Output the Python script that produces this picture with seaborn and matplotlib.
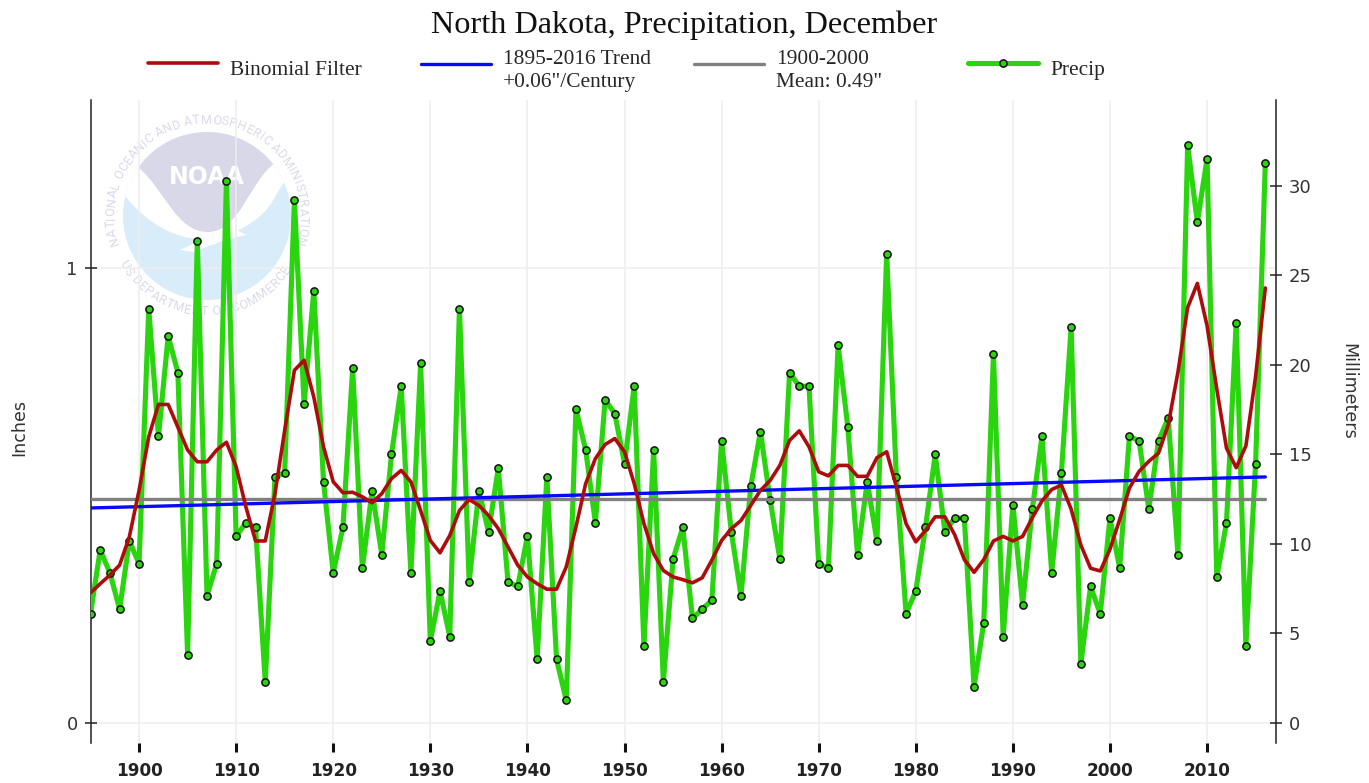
import numpy as np
import pandas as pd
import matplotlib
matplotlib.use("Agg")
import matplotlib.pyplot as plt
import seaborn as sns
from matplotlib.font_manager import FontProperties
from matplotlib.legend_handler import HandlerLine2D
from matplotlib.patches import Circle, PathPatch, Polygon
from matplotlib.path import Path
from matplotlib.textpath import TextPath

years = list(range(1895, 2017))
precip = [0.24, 0.38, 0.33, 0.25, 0.40, 0.35, 0.91, 0.63, 0.85, 0.77,
          0.15, 1.06, 0.28, 0.35, 1.19, 0.41, 0.44, 0.43, 0.09, 0.54,
          0.55, 1.15, 0.70, 0.95, 0.53, 0.33, 0.43, 0.78, 0.34, 0.51,
          0.37, 0.59, 0.74, 0.33, 0.79, 0.18, 0.29, 0.19, 0.91, 0.31,
          0.51, 0.42, 0.56, 0.31, 0.30, 0.41, 0.14, 0.54, 0.14, 0.05,
          0.69, 0.60, 0.44, 0.71, 0.68, 0.57, 0.74, 0.17, 0.60, 0.09,
          0.36, 0.43, 0.23, 0.25, 0.27, 0.62, 0.42, 0.28, 0.52, 0.64,
          0.49, 0.36, 0.77, 0.74, 0.74, 0.35, 0.34, 0.83, 0.65, 0.37,
          0.53, 0.40, 1.03, 0.54, 0.24, 0.29, 0.43, 0.59, 0.42, 0.45,
          0.45, 0.08, 0.22, 0.81, 0.19, 0.48, 0.26, 0.47, 0.63, 0.33,
          0.55, 0.87, 0.13, 0.30, 0.24, 0.45, 0.34, 0.63, 0.62, 0.47,
          0.62, 0.67, 0.37, 1.27, 1.10, 1.24, 0.32, 0.44, 0.88, 0.17,
          0.57, 1.23]
binomial = [0.286, 0.306, 0.325, 0.347, 0.409, 0.511, 0.629, 0.700, 0.700, 0.650,
            0.600, 0.574, 0.574, 0.600, 0.617, 0.563, 0.475, 0.400, 0.400, 0.504,
            0.643, 0.775, 0.797, 0.716, 0.607, 0.530, 0.506, 0.507, 0.497, 0.484,
            0.504, 0.537, 0.555, 0.530, 0.467, 0.401, 0.374, 0.412, 0.467, 0.491,
            0.478, 0.456, 0.427, 0.387, 0.347, 0.321, 0.306, 0.294, 0.294, 0.343,
            0.431, 0.526, 0.581, 0.612, 0.625, 0.596, 0.526, 0.438, 0.372, 0.335,
            0.321, 0.315, 0.308, 0.319, 0.358, 0.401, 0.427, 0.445, 0.478, 0.511,
            0.533, 0.566, 0.621, 0.642, 0.607, 0.552, 0.543, 0.566, 0.566, 0.542,
            0.542, 0.583, 0.596, 0.519, 0.438, 0.398, 0.423, 0.453, 0.453, 0.414,
            0.359, 0.331, 0.359, 0.400, 0.410, 0.400, 0.410, 0.451, 0.488, 0.513,
            0.523, 0.470, 0.391, 0.340, 0.334, 0.382, 0.447, 0.516, 0.553, 0.575,
            0.593, 0.655, 0.771, 0.913, 0.966, 0.873, 0.734, 0.604, 0.561, 0.609,
            0.762, 0.956]
line_years = [1895, 2016]
trend = [0.4725, 0.5407]
mean = [0.492, 0.492]
x_ticks = list(range(1900, 2011, 10))
in_ticks = [0, 1]
mm_ticks = [0, 5, 10, 15, 20, 25, 30]

W, H = 1369, 783
SERIF = "Liberation Serif"
SANS = "DejaVu Sans"
INK = "#333333"

sns.set_theme(style="white")
plt.rcParams["font.family"] = [SANS]

fig = plt.figure(figsize=(W / 100, H / 100), dpi=100, facecolor="white")

# pixel-space layer for the watermark, sits behind the chart
bg = fig.add_axes([0, 0, 1, 1], zorder=0)
bg.set_xlim(0, W)
bg.set_ylim(H, 0)
bg.axis("off")

cx, cy, r = 207, 216, 84
disc = Circle((cx, cy), r, fc="#d9ecf9", ec="none")
bg.add_patch(disc)
white_verts = [(120, 190), (145, 222), (170, 238), (205, 240), (225, 238), (262, 225),
               (276, 195), (288, 176), (300, 120), (110, 120), (120, 190)]
white_codes = [Path.MOVETO, Path.CURVE4, Path.CURVE4, Path.CURVE4, Path.CURVE4, Path.CURVE4,
               Path.CURVE4, Path.LINETO, Path.LINETO, Path.LINETO, Path.LINETO]
white = PathPatch(Path(white_verts, white_codes), fc="white", ec="none")
bg.add_patch(white)
white.set_clip_path(disc)
lav_verts = [(139, 168), (160, 120), (255, 120), (275, 163), (250, 180), (240, 232),
             (208, 232), (176, 232), (165, 190), (139, 168)]
lav_codes = [Path.MOVETO, Path.CURVE4, Path.CURVE4, Path.CURVE4, Path.CURVE4, Path.CURVE4,
             Path.CURVE4, Path.CURVE4, Path.CURVE4, Path.CURVE4]
lav = PathPatch(Path(lav_verts, lav_codes), fc="#d8d8e9", ec="none")
bg.add_patch(lav)
lav.set_clip_path(disc)
bg.add_patch(Polygon([(180, 250), (205, 238), (237, 230), (246, 235), (225, 240), (193, 252)],
                     fc="white", ec="none"))
bg.text(207, 177, "NOAA", color="white", fontsize=17, fontweight="bold",
        family="DejaVu Sans", ha="center", va="center")

arc_font = FontProperties(family="Roboto")


def advance(ch):
    # width of one glyph including side bearings
    return (TextPath((0, 0), "H" + ch + "H", size=10, prop=arc_font).get_extents().width
            - TextPath((0, 0), "HH", size=10, prop=arc_font).get_extents().width)


def arc_text(label, start, end, radius, flip):
    widths = np.array([advance(ch) for ch in label])
    spots = (np.cumsum(widths) - widths / 2) / widths.sum()
    for ch, s in zip(label, spots):
        a = np.radians(start + s * (end - start))
        rot = np.degrees(a) + (90 if flip else -90)
        bg.text(cx + radius * np.cos(a), cy - radius * np.sin(a), ch, rotation=rot,
                rotation_mode="anchor", ha="center", va="center", fontsize=9,
                color="#d9d9ec", family="Roboto")


arc_text("NATIONAL OCEANIC AND ATMOSPHERIC ADMINISTRATION", 198, -18, 96, False)
arc_text("US DEPARTMENT OF COMMERCE", 208, 328, 96, True)


class LiftedLine(HandlerLine2D):
    # legend line sits above the text centre in the original
    def __init__(self, lift, **kwargs):
        super().__init__(**kwargs)
        self.lift = lift

    def create_artists(self, legend, orig_handle, xdescent, ydescent, width, height,
                       fontsize, trans):
        return super().create_artists(legend, orig_handle, xdescent, ydescent - 2 * self.lift,
                                      width, height, fontsize, trans)


# main axes
ax = fig.add_axes([90.5 / W, 1 - 743 / H, (1276 - 90.5) / W, (743 - 100) / H], zorder=1)
ax.patch.set_alpha(0)

df = pd.DataFrame({"year": years, "precip": precip, "binomial": binomial})
lines = pd.DataFrame({"year": line_years, "trend": trend, "mean": mean})

sns.lineplot(data=df, x="year", y="precip", ax=ax, color="#2ad40e", linewidth=3.7, marker="o",
             markersize=5.2, markerfacecolor="#2ad40e", markeredgecolor="#111111",
             markeredgewidth=1.1, label="Precip", zorder=3)
sns.lineplot(data=lines, x="year", y="mean", ax=ax, color="#808080", linewidth=2.4,
             label='1900-2000\nMean: 0.49"', zorder=4)
sns.lineplot(data=lines, x="year", y="trend", ax=ax, color="#0808ff", linewidth=2.4,
             label='1895-2016 Trend\n+0.06"/Century', zorder=5)
sns.lineplot(data=df, x="year", y="binomial", ax=ax, color="#ad0c0c", linewidth=2.6,
             label="Binomial Filter", zorder=6)

ax.set_xlim(1895, 2017.1)
ax.set_ylim(-0.044, 1.369)
ax.set_xticks(x_ticks)
ax.set_yticks(in_ticks)
ax.set_xlabel("")
ax.set_ylabel("")
ax.grid(True, color="#eeeeee", linewidth=1.1)
ax.set_axisbelow(True)
ax.spines["top"].set_visible(False)
ax.spines["bottom"].set_visible(False)
ax.spines["right"].set_visible(False)
ax.spines["left"].set_color("#222222")
ax.spines["left"].set_linewidth(1.1)
ax.tick_params(axis="x", direction="out", length=6.5, width=2.2, color="#111111", pad=7.5,
               labelsize=12.2, labelcolor="#222222", bottom=True)
ax.tick_params(axis="y", direction="inout", length=8.4, width=1.1, color="#222222", pad=5,
               labelsize=13, labelcolor=INK, left=True)
for t in ax.get_xticklabels():
    t.set_fontweight("bold")

mm = ax.twinx()
mm.set_ylim(-0.044 * 25.4, 1.369 * 25.4)
mm.set_yticks(mm_ticks)
mm.grid(False)
mm.spines["top"].set_visible(False)
mm.spines["bottom"].set_visible(False)
mm.spines["left"].set_visible(False)
mm.spines["right"].set_color("#222222")
mm.spines["right"].set_linewidth(1.1)
mm.tick_params(axis="y", direction="inout", length=8.4, width=1.1, color="#222222", pad=5,
               labelsize=13, labelcolor=INK, right=True)

fig.text(684 / W, 1 - 25 / H, "North Dakota, Precipitation, December", family=SERIF,
         fontsize=23.2, color="#111111", ha="center", va="center")
fig.text(19 / W, 1 - 428 / H, "Inches", rotation=90, fontsize=12.6, color=INK,
         ha="center", va="center")
fig.text(1348 / W, 1 - 391 / H, "Millimeters", rotation=270, fontsize=12.6, color=INK,
         ha="center", va="center")

# one legend per entry, the columns sit at fixed spacing
handles, labels = ax.get_legend_handles_labels()
ax.get_legend().remove()
by_label = dict(zip(labels, handles))
legend_spots = [("Binomial Filter", 148, 60.5, 3.6), ('1895-2016 Trend\n+0.06"/Century', 421, 49.5, 4.3),
                ('1900-2000\nMean: 0.49"', 694, 49.5, 4.3), ("Precip", 968, 60.5, 3.6)]
for label, left, top, lift in legend_spots:
    h = by_label[label]
    leg = fig.legend([h], [label], loc="upper left", bbox_to_anchor=(left / W, 1 - top / H),
                     frameon=False, borderpad=0, borderaxespad=0, handlelength=3.25,
                     handletextpad=0.6, labelspacing=0, numpoints=1,
                     prop={"family": SERIF, "size": 15.4},
                     handler_map={h: LiftedLine(lift, numpoints=1)})
    for t in leg.get_texts():
        t.set_linespacing(1.3)

fig.savefig("out.png", dpi=100)
